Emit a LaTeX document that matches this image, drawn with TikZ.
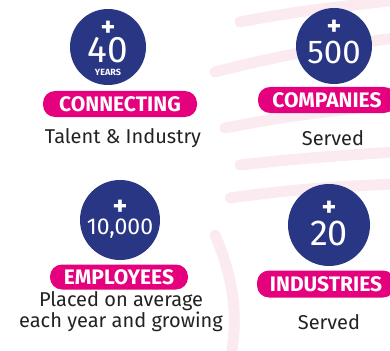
\documentclass[tikz,border=0pt]{standalone}
\usepackage{fontspec}
\setmainfont{Fira Sans}
\definecolor{navy}{HTML}{283683}
\definecolor{magenta}{HTML}{E5007D}
\definecolor{txt}{HTML}{222222}
\definecolor{wave}{HTML}{FBEAF0}
\begin{document}
\begin{tikzpicture}[x=1pt,y=-1pt,
  disc/.style={circle,fill=navy,inner sep=0pt},
  pill/.style={fill=magenta,rounded corners=12pt,inner sep=0pt,text=white,font=\fontsize{21}{21}\selectfont\bfseries},
  num/.style={text=white,inner sep=0pt},
  plus/.style={text=white,inner sep=0pt,font=\fontsize{28}{28}\selectfont\bfseries,text height=14pt,text depth=-3pt},
  caption/.style={text=txt,font=\fontsize{20}{21}\selectfont,align=center,inner sep=0pt}]
\useasboundingbox (0,0) rectangle (390,350);
% faint background waves
\begin{scope}[wave,line width=11pt,line cap=round]
\draw (240,22) .. controls (300,10) and (350,6) .. (395,0);
\draw (215,72) .. controls (280,55) and (340,45) .. (395,38);
\draw (225,128) .. controls (290,115) and (340,110) .. (395,104);
\draw (240,165) .. controls (300,158) and (350,155) .. (395,152);
\draw (230,198) .. controls (300,188) and (350,186) .. (395,184);
\draw (215,235) .. controls (232,275) and (238,310) .. (232,350);
\end{scope}
% circles
\node[disc,minimum size=76pt] (c1) at (108,47) {};
\node[disc,minimum size=76pt] (c2) at (334,46) {};
\node[disc,minimum size=80pt] (c3) at (120,220) {};
\node[disc,minimum size=82pt] (c4) at (329,225) {};
% circle texts
\node[plus] (c1p) at (108,30) {+};
\node[num,font=\fontsize{37}{37}\selectfont,text height=26pt,text depth=0pt] (c1n) at (108,50) {40};
\node[num,font=\fontsize{9}{9}\selectfont\bfseries,text height=6pt,text depth=0pt] (c1y) at (108,72.5) {YEARS};
\node[plus] (c2p) at (334,29) {+};
\node[num,font=\fontsize{33}{33}\selectfont,text height=23pt,text depth=0pt] (c2n) at (334,52) {500};
\node[plus] (c3p) at (120,208) {+};
\node[num,font=\fontsize{23}{23}\selectfont,text height=16pt,text depth=0pt] (c3n) at (120,226) {10,000};
\node[plus] (c4p) at (329,209) {+};
\node[num,font=\fontsize{36}{36}\selectfont,text height=25pt,text depth=0pt] (c4n) at (329,233) {20};
% pills
\node[pill,minimum width=154pt,minimum height=26pt] (p1) at (120,104) {CONNECTING};
\node[pill,minimum width=138pt,minimum height=26pt] (p2) at (327,100) {COMPANIES};
\node[pill,minimum width=138pt,minimum height=25pt] (p3) at (119,277) {EMPLOYEES};
\node[pill,minimum width=138pt,minimum height=27pt] (p4) at (326,284) {INDUSTRIES};
% captions
\node[caption] (t1) at (123,138) {Talent \& Industry};
\node[caption] (t2) at (333,138) {Served};
\node[caption] (t3) at (121,312) {Placed on average\\each year and growing};
\node[caption] (t4) at (329,322) {Served};
\end{tikzpicture}
\end{document}
